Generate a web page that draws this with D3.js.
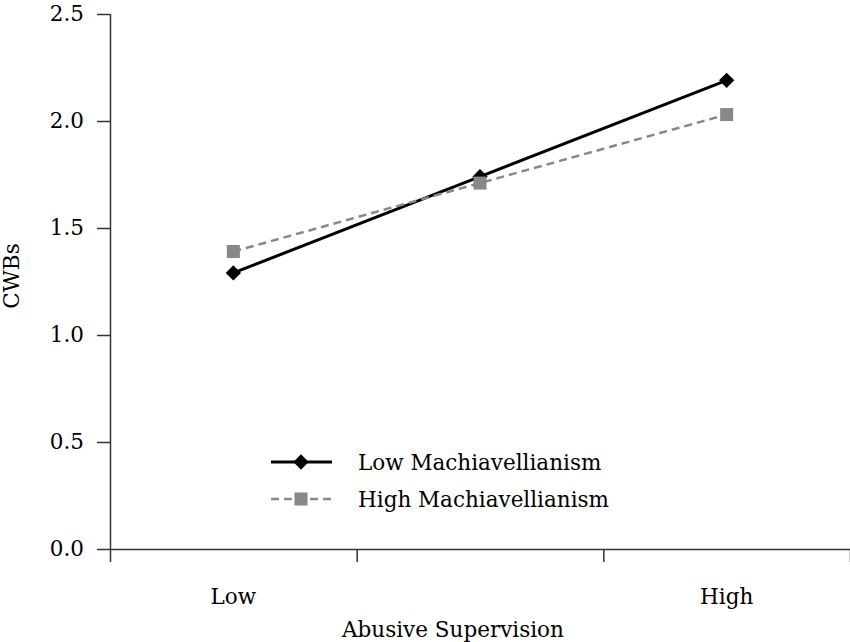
<!DOCTYPE html>
<html>
<head>
<meta charset="utf-8">
<script src="https://cdn.jsdelivr.net/npm/d3@7"></script>
<style>
  body { margin: 0; background: #fff; }
  text { font-family: "DejaVu Serif", serif; }
</style>
</head>
<body>
<div id="chart"></div>
<script>
var categories = ["Low", "Mid", "High"];
var tickLabels = ["Low", "", "High"];
var lowMach = [1.29, 1.74, 2.19];
var highMach = [1.39, 1.71, 2.03];
var seriesNames = ["Low Machiavellianism", "High Machiavellianism"];
var yTicks = [0, 0.5, 1.0, 1.5, 2.0, 2.5];

var width = 850, height = 642;
var fs = "21.5px";

var svg = d3.select("#chart")
            .append("svg")
            .attr("width", width)
            .attr("height", height)

var x = d3.scaleBand()
    .domain(categories)
    .range([110, 850])

var y = d3.scaleLinear()
    .domain([0, 2.5])
    .range([549, 14])

// y axis
var yAxis = svg.append("g")
    .attr("transform", "translate(110,0)")
    .call(d3.axisLeft(y)
        .tickValues(yTicks)
        .tickFormat(d3.format(".1f"))
        .tickSize(13)
        .tickPadding(13)
    )
yAxis.select(".domain").attr("d", "M0.5," + y(2.5) + "V" + y(0))

// x axis: tick marks at band edges
var edges = d3.scaleLinear().domain([0, 3]).range([110, 850])
var xAxis = svg.append("g")
    .attr("transform", "translate(0,549)")
    .call(d3.axisBottom(edges)
        .tickValues([0, 1, 2, 3])
        .tickFormat("")
        .tickSize(13)
        .tickSizeOuter(0)
    )

// x category labels
svg.append("g")
    .attr("transform", "translate(0,549)")
    .call(d3.axisBottom(x)
        .tickFormat(function(d, i) { return tickLabels[i]; })
        .tickSize(0)
        .tickPadding(40)
    )
    .call(function(g) { g.select(".domain").remove(); })

svg.selectAll(".tick text")
    .style("font-size", fs)
    .style("font-family", "DejaVu Serif")
    .attr("fill", "#000")
svg.selectAll(".domain, .tick line")
    .attr("stroke", "#333")
    .attr("stroke-width", 1.5)

svg.append("text")
    .attr("x", 453)
    .attr("y", 637)
    .attr("text-anchor", "middle")
    .style("font-size", fs)
    .attr("fill", "#000")
    .text("Abusive Supervision")

svg.append("text")
    .attr("transform", "translate(19,276) rotate(-90)")
    .attr("text-anchor", "middle")
    .style("font-size", fs)
    .attr("fill", "#000")
    .text("CWBs")

var line = d3.line()
    .x(function(d, i) { return x(categories[i]) + x.bandwidth() / 2; })
    .y(function(d) { return y(d); })

var diamond = d3.symbol().type(d3.symbolDiamond2).size(150)
var square = d3.symbol().type(d3.symbolSquare).size(170)

// low Machiavellianism
svg.append("path")
    .datum(lowMach)
    .attr("d", line)
    .attr("fill", "none")
    .attr("stroke", "#000")
    .attr("stroke-width", 3)

svg.selectAll(".lowpt")
    .data(lowMach)
    .enter()
    .append("path")
    .attr("class", "lowpt")
    .attr("d", diamond)
    .attr("transform", function(d, i) {
        return "translate(" + (x(categories[i]) + x.bandwidth() / 2) + "," + y(d) + ")";
    })
    .attr("fill", "#000")

// high Machiavellianism
svg.append("path")
    .datum(highMach)
    .attr("d", line)
    .attr("fill", "none")
    .attr("stroke", "#888")
    .attr("stroke-width", 2.5)
    .attr("stroke-dasharray", "8,5")

svg.selectAll(".highpt")
    .data(highMach)
    .enter()
    .append("path")
    .attr("class", "highpt")
    .attr("d", square)
    .attr("transform", function(d, i) {
        return "translate(" + (x(categories[i]) + x.bandwidth() / 2) + "," + y(d) + ")";
    })
    .attr("fill", "#888")

// legend
var legend = svg.append("g")
var rows = legend.selectAll("g")
    .data(seriesNames)
    .enter()
    .append("g")
    .attr("transform", function(d, i) { return "translate(271," + (462 + i * 37) + ")"; })

rows.append("line")
    .attr("x1", 0)
    .attr("x2", 61)
    .attr("stroke", function(d, i) { return i == 0 ? "#000" : "#888"; })
    .attr("stroke-width", function(d, i) { return i == 0 ? 3 : 2.5; })
    .attr("stroke-dasharray", function(d, i) { return i == 0 ? null : "8,5"; })

rows.append("path")
    .attr("d", function(d, i) { return i == 0 ? diamond() : square(); })
    .attr("transform", "translate(30,0)")
    .attr("fill", function(d, i) { return i == 0 ? "#000" : "#888"; })

rows.append("text")
    .attr("x", 87)
    .attr("y", 8)
    .style("font-size", fs)
    .attr("fill", "#000")
    .text(function(d) { return d; })
</script>
</body>
</html>
